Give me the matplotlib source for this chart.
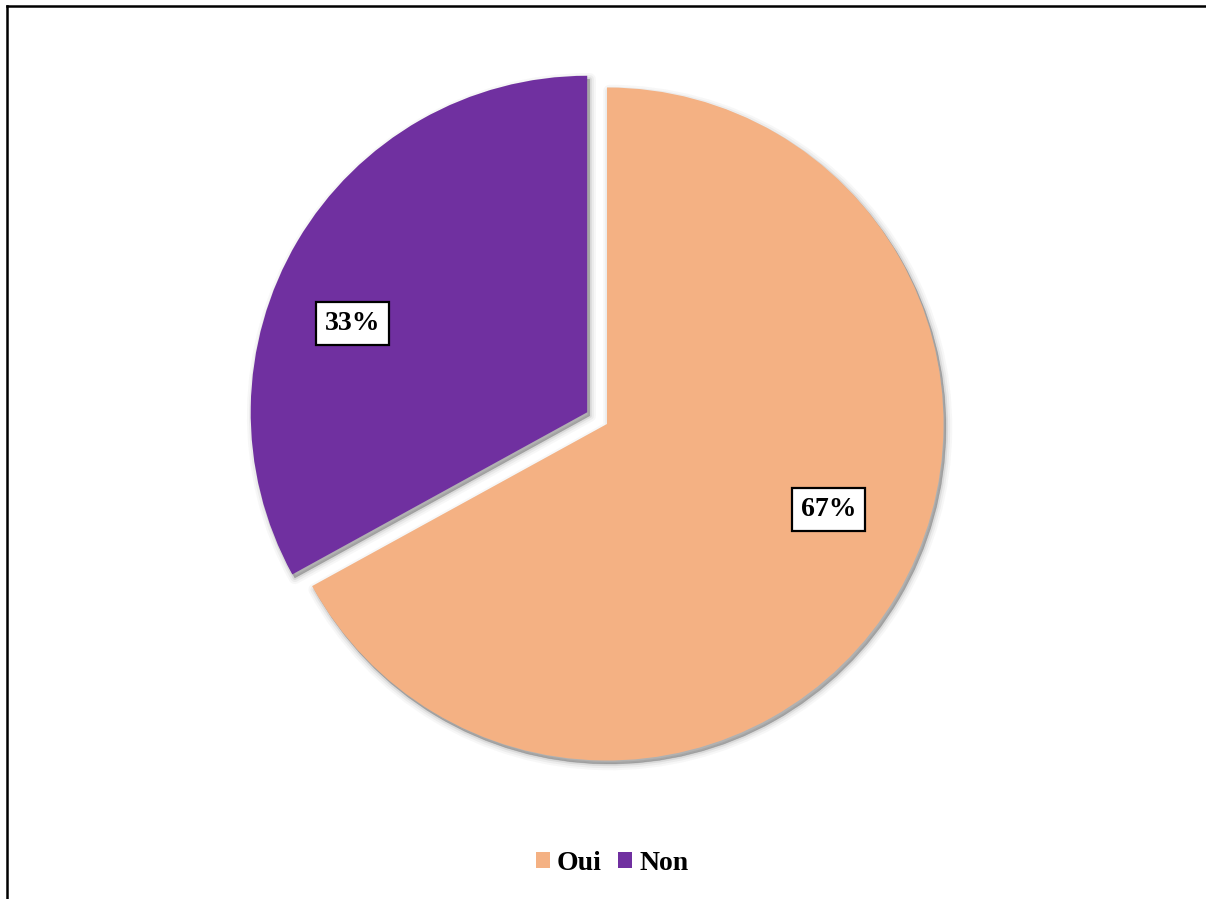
import matplotlib
matplotlib.use("Agg")
import matplotlib.pyplot as plt
from matplotlib.patches import Wedge, Patch
from matplotlib.lines import Line2D
import numpy as np

categories = ["Oui", "Non"]
values = [67, 33]
colors = ["#F4B183", "#7030A0"]
explode = [0, 23]

W, H = 1206, 899
fig = plt.figure(figsize=(W / 100, H / 100), dpi=100)
ax = fig.add_axes([0, 0, 1, 1])
ax.set_xlim(0, W)
ax.set_ylim(0, H)
ax.set_aspect("equal")
ax.axis("off")

center = (607, H - 424)
radius = 336.5

wedges, texts, autotexts = ax.pie(
    values, colors=colors, startangle=90, counterclock=False,
    explode=explode, center=center, radius=radius, frame=True,
    autopct=lambda p: f"{p:.0f}%", pctdistance=0.7,
    wedgeprops=dict(linewidth=0, zorder=3),
    textprops=dict(family="Liberation Serif", fontweight="bold",
                   fontsize=20, color="black"),
)
ax.set_xlim(0, W)
ax.set_ylim(0, H)
ax.axis("off")

# soft drop shadow behind each wedge
for w in wedges:
    cx, cy = w.center
    for lw, a in [(9, 0.04), (6, 0.06), (3, 0.10), (0.5, 0.18)]:
        s = Wedge((cx + 2.5, cy - 3.5), w.r, w.theta1, w.theta2,
                  facecolor="#404040", edgecolor="#404040",
                  linewidth=lw, alpha=a, zorder=2, joinstyle="round")
        ax.add_patch(s)

# label placement (angle in degrees, distance as fraction of radius)
label_pos = {"Oui": (-21.0, 0.706), "Non": (159.3, 0.745)}
for w, t, cat in zip(wedges, autotexts, categories):
    ang, frac = label_pos[cat]
    cx, cy = w.center
    t.set_position((cx + frac * radius * np.cos(np.radians(ang)),
                    cy + frac * radius * np.sin(np.radians(ang))))
    t.set_ha("center")
    t.set_va("center")
    t.set_zorder(5)
    t.set_bbox(dict(boxstyle="square,pad=0.32", facecolor="white",
                    edgecolor="black", linewidth=1.6))

handles = [Patch(facecolor=c, edgecolor="none") for c in colors]
leg = fig.legend(handles, categories, loc="center", bbox_to_anchor=(612 / W, 1 - 863 / H),
                 ncol=2, frameon=False, handlelength=0.5, handleheight=0.5,
                 handletextpad=0.25, columnspacing=0.6,
                 prop=dict(family="Liberation Serif", weight="bold", size=20))

# chart area border (left and top edges visible)
fig.add_artist(Line2D([7 / W, 7 / W], [0, 1 - 5.5 / H], transform=fig.transFigure,
                      color="black", linewidth=1.8))
fig.add_artist(Line2D([7 / W, 1], [1 - 5.5 / H, 1 - 5.5 / H], transform=fig.transFigure,
                      color="black", linewidth=1.8))

fig.savefig("out.png", dpi=100, facecolor="white")
